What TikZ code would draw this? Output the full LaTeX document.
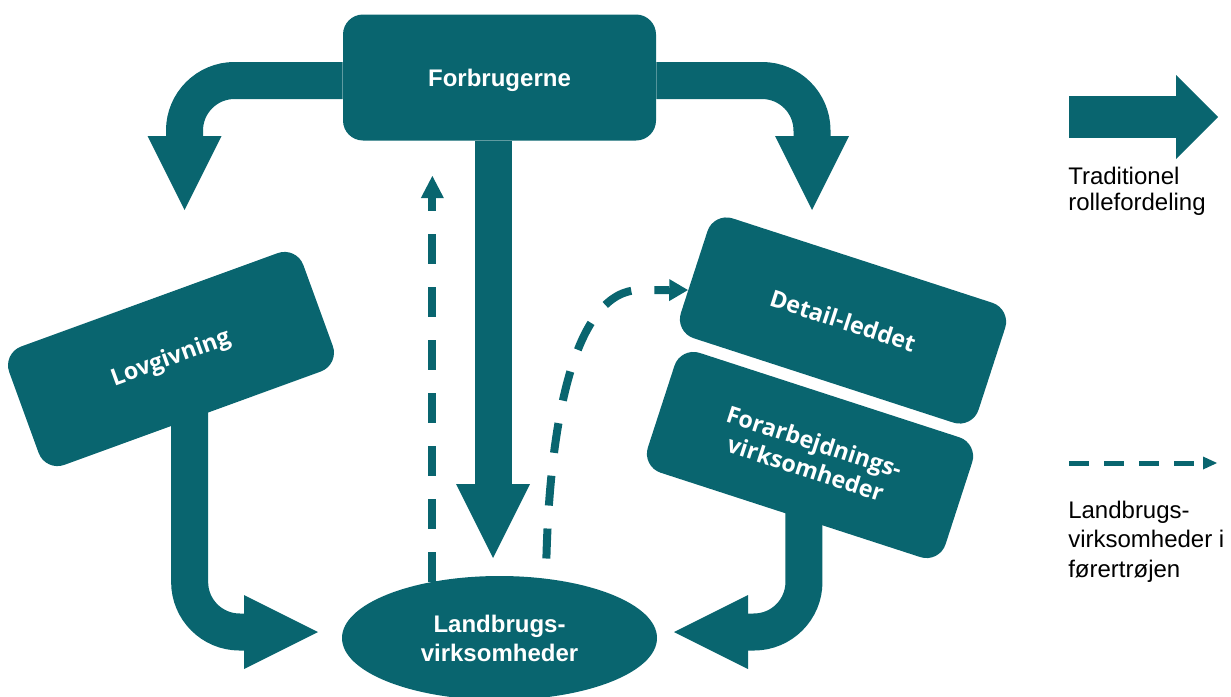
\documentclass[tikz,border=0pt]{standalone}
\usepackage{fontspec}
\setmainfont{Liberation Sans}
\newfontfamily\tiltface{Open Sans}
\usetikzlibrary{arrows.meta,shapes.geometric,calc}
\definecolor{roleteal}{RGB}{9,101,111}

\begin{document}
\begin{tikzpicture}[x=0.75pt,y=0.75pt,yscale=-1,xscale=1,
  rolebox/.style={fill=roleteal,rounded corners=15pt,minimum width=234.75pt,minimum height=94.5pt,inner sep=0pt,text=white,align=center},
  boldtext/.style={font=\fontsize{18}{21.75}\selectfont\bfseries},
  tilttext/.style={font=\tiltface\fontsize{17.5}{21}\selectfont\bfseries},
  flow/.style={draw=roleteal,line width=27.75pt,rounded corners=37.5pt,-{Triangle[length=55.5pt,width=55.5pt,line width=0pt]}},
  lead/.style={draw=roleteal,line width=6pt,dash pattern={on 22.5pt off 17.25pt},-{Triangle[length=16.5pt,width=17.25pt,line width=0pt]}},
  legtext/.style={anchor=north west,inner sep=0pt,align=left}]
\path[use as bounding box] (0,0) rectangle (1231,696);

%Shape: Rounded Rect
\node[rolebox,boldtext,text depth=0pt] (forbrugerne) at (499.5,77.5) {Forbrugerne};
%Shape: Rounded Rect
\node[rolebox,tilttext,rotate=20] (lovgivning) at (171,359) {Lovgivning};
%Shape: Rounded Rect
\node[rolebox,tilttext,rotate=-18] (detail) at (843,320.5) {Detail-leddet};
%Shape: Rounded Rect
\node[rolebox,tilttext,rotate=-18] (forarb) at (810,455) {Forarbejdnings-\\virksomheder};
%Shape: Ellipse
\node[ellipse,fill=roleteal,minimum width=236.25pt,minimum height=93pt,inner sep=0pt,text=white,align=center,boldtext] (landbrug) at (499.5,638) {Landbrugs-\\virksomheder};

%free ends
\coordinate (lovin) at (184.5,210);
\coordinate (detin) at (812,210);
\coordinate (landin) at (493,558);
\coordinate (lovout) at (318,632);
\coordinate (forout) at (674,632);
\coordinate (upend) at (431,176);

%Thick Arrows
\draw[flow] ($(forbrugerne.west)+(0,3)$) -| (lovin);
\draw[flow] ($(forbrugerne.east)+(0,3)$) -| (detin);
\draw[flow] (forbrugerne.south -| landin) -- (landin);
\draw[flow] ($(lovgivning.south)+(-3,-10)$) |- (lovout);
\draw[flow] ($(forarb.south)+(13.5,-5)$) |- (forout);

%Dashed Arrows
\draw[lead] (landbrug.140.5) -- (landbrug.140.5 |- upend);
\draw[lead,dash phase=24.75pt,-{Triangle[length=14pt,width=16.5pt,line width=0pt]}] (landbrug.52) .. controls (548,420) and (575,290) .. (640,290) -- ($(detail.west)+(-6,18)$);

%Legend
\coordinate (legfrom) at (1069,117);
\coordinate (legto) at (1218,117);
\draw[draw=roleteal,line width=31.5pt,-{Triangle[length=31.5pt,width=63pt,line width=0pt]}] (legfrom) -- (legto);
\coordinate (legdfrom) at (1069,463);
\coordinate (legdto) at (1217,463);
\draw[draw=roleteal,line width=3.75pt,dash pattern={on 15pt off 11.25pt},-{Triangle[length=10.5pt,width=9.75pt,line width=0pt]}] (legdfrom) -- (legdto);

% Text Node
\node[legtext,font=\fontsize{18}{19.5}\selectfont] (legtrad) at (1068,167) {Traditionel\\rollefordeling};
% Text Node
\node[legtext,font=\fontsize{18}{22}\selectfont] (legland) at (1068,501) {Landbrugs-\\virksomheder i\\førertrøjen};

\end{tikzpicture}
\end{document}
